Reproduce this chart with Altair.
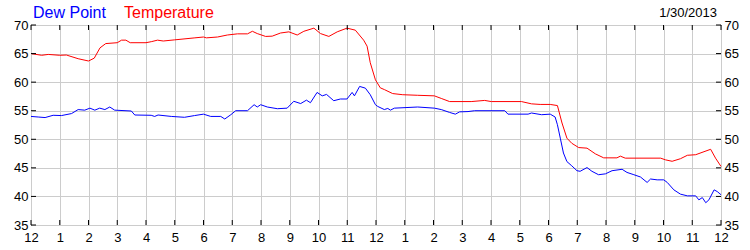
import altair as alt
import pandas as pd

# ---- data ----
temp_hours = [0.0, 0.37, 0.6, 1.0, 1.23, 1.64, 2.0, 2.2, 2.4, 2.6, 3.0, 3.15, 3.3, 3.45, 4.0, 4.2, 4.4, 4.6,
              5.0, 5.7, 6.0, 6.1, 6.49, 6.83, 7.18, 7.53, 7.7, 7.87, 8.16, 8.39, 8.68, 8.97, 9.26, 9.49,
              9.84, 10.07, 10.36, 10.65, 10.99, 11.28, 11.57, 11.69, 11.8, 11.98, 12.15, 12.29, 12.58,
              12.93, 13.45, 14.03, 14.27, 14.56, 15.31, 15.78, 16.01, 17.06, 17.41, 17.71, 18.06, 18.31,
              18.47, 18.64, 18.81, 19.05, 19.34, 19.63, 19.92, 20.38, 20.5, 20.67, 21.9, 22.07, 22.3,
              22.59, 22.83, 23.12, 23.64, 23.81, 24.0]
temp_vals = [65.0, 64.7, 64.85, 64.7, 64.75, 64.1, 63.7, 64.2, 66.0, 66.75, 66.9, 67.35, 67.35, 66.9, 66.9,
             67.1, 67.35, 67.2, 67.4, 67.75, 67.9, 67.75, 67.9, 68.25, 68.45, 68.45, 68.9, 68.5, 68.0,
             68.05, 68.6, 68.8, 68.25, 68.9, 69.45, 68.5, 68.0, 68.8, 69.45, 69.1, 67.35, 66.3, 63.4,
             60.4, 59.0, 58.7, 58.0, 57.8, 57.7, 57.6, 57.15, 56.6, 56.6, 56.8, 56.6, 56.6, 56.2, 56.1,
             56.1, 55.9, 52.85, 50.2, 49.3, 48.55, 48.45, 47.45, 46.75, 46.75, 47.05, 46.7, 46.7, 46.4,
             46.15, 46.6, 47.2, 47.3, 48.25, 46.7, 45.25]

dew_hours = [0.0, 0.25, 0.49, 0.77, 1.06, 1.41, 1.64, 1.87, 2.05, 2.22, 2.39, 2.57, 2.74, 2.91, 3.49, 3.61,
             4.18, 4.3, 4.42, 4.88, 5.34, 5.69, 6.0, 6.25, 6.6, 6.74, 6.95, 7.12, 7.53, 7.76, 7.87, 7.99,
             8.22, 8.57, 8.91, 9.14, 9.38, 9.58, 9.72, 9.95, 10.13, 10.28, 10.53, 10.76, 10.99, 11.17,
             11.25, 11.43, 11.63, 11.8, 11.98, 12.06, 12.29, 12.41, 12.5, 12.64, 13.45, 14.03, 14.27,
             14.56, 14.76, 14.91, 15.2, 15.43, 16.48, 16.59, 17.29, 17.41, 17.76, 18.06, 18.23, 18.31,
             18.41, 18.52, 18.64, 18.81, 18.99, 19.1, 19.34, 19.51, 19.74, 19.98, 20.21, 20.56, 20.73,
             20.97, 21.2, 21.43, 21.55, 21.78, 22.01, 22.13, 22.36, 22.59, 22.83, 23.12, 23.23, 23.35,
             23.47, 23.58, 23.76, 23.87, 24.0]
dew_vals = [54.0, 53.9, 53.8, 54.2, 54.15, 54.5, 55.2, 55.1, 55.45, 55.1, 55.45, 55.2, 55.65, 55.1, 54.95,
            54.25, 54.2, 54.0, 54.25, 54.0, 53.85, 54.15, 54.4, 54.0, 54.0, 53.55, 54.3, 55.0, 55.0,
            56.05, 55.65, 56.05, 55.65, 55.35, 55.45, 56.65, 56.25, 56.85, 56.4, 58.2, 57.6, 57.85,
            56.75, 57.05, 57.05, 58.2, 57.6, 59.25, 58.95, 57.8, 56.05, 55.75, 55.2, 55.4, 55.1, 55.45,
            55.65, 55.45, 55.2, 54.7, 54.4, 54.8, 54.85, 55.0, 55.0, 54.4, 54.4, 54.6, 54.3, 54.4, 53.9,
            52.55, 50.2, 47.6, 46.1, 45.35, 44.5, 44.4, 45.05, 44.4, 43.8, 43.95, 44.5, 44.75, 44.2,
            43.8, 43.4, 42.45, 43.05, 42.9, 42.9, 42.45, 41.15, 40.4, 40.1, 40.1, 39.4, 39.8, 38.9,
            39.4, 41.15, 40.85, 40.3]

series_names = ["Dew Point", "Temperature"]
series_colors = ["#0000ff", "#ff0000"]
hour_ticks = list(range(25))
y_ticks = [35, 40, 45, 50, 55, 60, 65, 70]
date_label = "1/30/2013"

df = pd.concat([
    pd.DataFrame({"hour": dew_hours, "value": dew_vals, "series": "Dew Point"}),
    pd.DataFrame({"hour": temp_hours, "value": temp_vals, "series": "Temperature"}),
])
xt = pd.DataFrame({"hour": hour_ticks})
yt = pd.DataFrame({"value": y_ticks})

FONT = "Liberation Sans"
W, H = 690, 200
xs = alt.Scale(domain=[0, 24], nice=False, zero=False)
ys = alt.Scale(domain=[35, 70], nice=False, zero=False)

x_axis = alt.Axis(values=hour_ticks, labelExpr="datum.value % 12 == 0 ? '12' : '' + (datum.value % 12)",
                  grid=True, gridColor="#cccccc", ticks=False, tickSize=0, domain=False,
                  labelPadding=6, labelFontSize=13, labelFont=FONT, labelColor="black",
                  labelOverlap=False, labelFlush=False, title=None)
y_left = alt.Axis(values=y_ticks, orient="left", grid=True, gridColor="#cccccc", ticks=False, tickSize=0,
                  domain=False, labelPadding=3, labelFontSize=13, labelFont=FONT, labelColor="black",
                  labelOverlap=False, labelFlush=False, title=None)
y_right = alt.Axis(values=y_ticks, orient="right", grid=False, ticks=False, tickSize=0,
                   domain=False, labelPadding=3, labelFontSize=13, labelFont=FONT, labelColor="black",
                   labelOverlap=False, labelFlush=False, title=None)

X = alt.X("hour:Q", scale=xs, axis=x_axis)

lines = alt.Chart(df).mark_line(strokeWidth=1).encode(
    x=X,
    y=alt.Y("value:Q", scale=ys, axis=y_left),
    color=alt.Color("series:N", scale=alt.Scale(domain=series_names, range=series_colors), legend=None),
)

xtick_bottom = alt.Chart(xt).mark_rule(color="black", strokeWidth=1).encode(
    x=X, y=alt.value(H), y2=alt.value(H - 5))
xtick_top = alt.Chart(xt).mark_rule(color="black", strokeWidth=1).encode(
    x=X, y=alt.value(0), y2=alt.value(5))
ytick_left = alt.Chart(yt).mark_rule(color="black", strokeWidth=1).encode(
    y=alt.Y("value:Q", scale=ys, axis=None), x=alt.value(0), x2=alt.value(5))
ytick_right = alt.Chart(yt).mark_rule(color="black", strokeWidth=1).encode(
    y=alt.Y("value:Q", scale=ys, axis=y_right), x=alt.value(W), x2=alt.value(W - 5))

t_dew = alt.Chart(pd.DataFrame({"t": [series_names[0]]})).mark_text(
    align="left", baseline="alphabetic", font=FONT, fontSize=16, color=series_colors[0]
).encode(text="t:N", x=alt.value(2), y=alt.value(-7))
t_temp = alt.Chart(pd.DataFrame({"t": [series_names[1]]})).mark_text(
    align="left", baseline="alphabetic", font=FONT, fontSize=16, color=series_colors[1]
).encode(text="t:N", x=alt.value(93), y=alt.value(-7))
t_date = alt.Chart(pd.DataFrame({"t": [date_label]})).mark_text(
    align="right", baseline="alphabetic", font=FONT, fontSize=13, color="black"
).encode(text="t:N", x=alt.value(686), y=alt.value(-8))

chart = alt.layer(
    lines, xtick_bottom, xtick_top, ytick_left, ytick_right, t_dew, t_temp, t_date
).resolve_axis(y="independent").properties(
    width=W, height=H,
    autosize=alt.AutoSizeParams(type="none"),
    padding={"left": 31, "top": 25, "right": 29, "bottom": 25},
    background="white",
).configure_view(stroke="black", strokeWidth=1)

chart.save("out.html", embed_options={"renderer": "svg", "actions": False})
